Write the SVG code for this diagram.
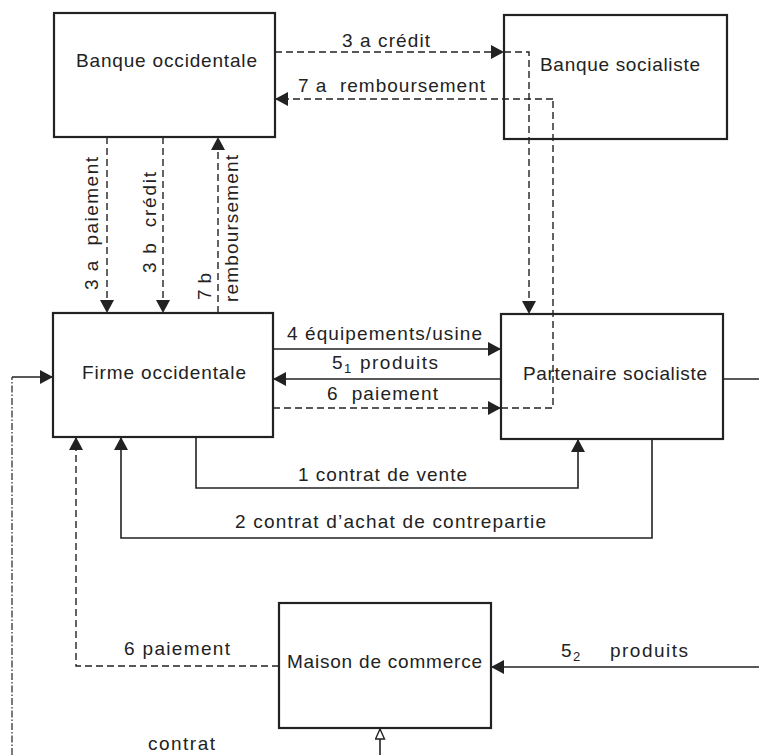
<svg xmlns="http://www.w3.org/2000/svg" width="759" height="755" viewBox="0 0 759 755">
<style>
  .box { fill: #fff; stroke: #222; stroke-width: 2.2; }
  .t { font-family: "Liberation Sans", Arial, sans-serif; font-size: 19px; fill: #222; }
  .sub { font-size: 13px; }
  .sol { fill: none; stroke: #222; stroke-width: 1.6; }
  .dsh { fill: none; stroke: #222; stroke-width: 1.4; stroke-dasharray: 7 4; }
  .dd { fill: none; stroke: #222; stroke-width: 1.2; stroke-dasharray: 7 2 1.5 2; }
</style>
<defs>
  <marker id="ah" markerUnits="userSpaceOnUse" markerWidth="14" markerHeight="14" refX="13" refY="7" orient="auto">
    <path d="M0,0 L13,7 L0,14 z" fill="#222"/>
  </marker>
  <marker id="ao" markerUnits="userSpaceOnUse" markerWidth="12" markerHeight="12" refX="11" refY="5.5" orient="auto">
    <path d="M1,1 L11,5.5 L1,10 z" fill="#fff" stroke="#222" stroke-width="1.4"/>
  </marker>
</defs>
<rect width="759" height="755" fill="#fff"/>

<g id="connectors">
  <path class="dsh" d="M275,52 H504" marker-end="url(#ah)"/>
  <path class="dsh" d="M504,52 H529 V314" marker-end="url(#ah)"/>
  <path class="dsh" d="M553,99 H275" marker-end="url(#ah)"/>
  <path class="dsh" d="M273,408 H501" marker-end="url(#ah)"/>
  <path class="dsh" d="M501,408 H553 V99"/>
  <path class="dsh" d="M107,137 V313" marker-end="url(#ah)"/>
  <path class="dsh" d="M163,137 V313" marker-end="url(#ah)"/>
  <path class="dsh" d="M218,313 V137" marker-end="url(#ah)"/>
  <path class="sol" d="M273,349 H501" marker-end="url(#ah)"/>
  <path class="sol" d="M501,379 H273" marker-end="url(#ah)"/>
  <path class="sol" d="M723,379 H759"/>
  <path class="sol" d="M759,667 H491" marker-end="url(#ah)"/>
  <path class="sol" d="M196,437 V488 H578 V439" marker-end="url(#ah)"/>
  <path class="sol" d="M652,439 V538 H121 V437" marker-end="url(#ah)"/>
  <path class="dsh" d="M279,666 H76 V437" marker-end="url(#ah)"/>
  <path class="dd" d="M12,755 V377"/>
  <path class="sol" d="M12,377 H53" marker-end="url(#ah)"/>
  <path class="sol" d="M380,755 V729" marker-end="url(#ao)"/>
</g>

<g id="labels">
  <text class="t" x="342" y="47" textLength="88" lengthAdjust="spacing">3 a crédit</text>
  <text class="t" x="298" y="92" textLength="187" lengthAdjust="spacing" xml:space="preserve">7 a  remboursement</text>
  <text class="t" transform="translate(98,290) rotate(-90)" x="0" y="0" textLength="133" lengthAdjust="spacing" xml:space="preserve">3 a  paiement</text>
  <text class="t" transform="translate(156,273) rotate(-90)" x="0" y="0" textLength="101" lengthAdjust="spacing" xml:space="preserve">3 b  crédit</text>
  <text class="t" transform="translate(211,300) rotate(-90)" x="0" y="0" textLength="27" lengthAdjust="spacing">7 b</text>
  <text class="t" transform="translate(238,302) rotate(-90)" x="0" y="0" textLength="147" lengthAdjust="spacing">remboursement</text>
  <text class="t" x="287" y="340" textLength="195" lengthAdjust="spacing">4 équipements/usine</text>
  <text class="t" y="369"><tspan x="332">5</tspan><tspan class="sub" x="344" dy="4">1</tspan><tspan x="360" dy="-4" textLength="78" lengthAdjust="spacing">produits</tspan></text>
  <text class="t" x="327" y="400" textLength="111" lengthAdjust="spacing" xml:space="preserve">6  paiement</text>
  <text class="t" x="298" y="481" textLength="169" lengthAdjust="spacing">1 contrat de vente</text>
  <text class="t" x="235" y="528" textLength="311" lengthAdjust="spacing">2 contrat d’achat de contrepartie</text>
  <text class="t" x="124" y="655" textLength="106" lengthAdjust="spacing">6 paiement</text>
  <text class="t" y="657"><tspan x="561">5</tspan><tspan class="sub" x="573" dy="4">2</tspan><tspan x="610" dy="-4" textLength="78" lengthAdjust="spacing">produits</tspan></text>
  <text class="t" x="148" y="750" textLength="67" lengthAdjust="spacing">contrat</text>
</g>

<g id="banque-occidentale">
  <rect class="box" x="54" y="13" width="221" height="124"/>
  <text class="t" x="76" y="67" textLength="181" lengthAdjust="spacing">Banque occidentale</text>
</g>
<g id="banque-socialiste">
  <rect class="box" x="504" y="15" width="223" height="124" style="fill:none"/>
  <text class="t" x="540" y="71" textLength="160" lengthAdjust="spacing">Banque socialiste</text>
</g>
<g id="firme-occidentale">
  <rect class="box" x="53" y="313" width="220" height="124"/>
  <text class="t" x="82" y="379" textLength="164" lengthAdjust="spacing">Firme occidentale</text>
</g>
<g id="partenaire-socialiste">
  <rect class="box" x="501" y="314" width="222" height="125" style="fill:none"/>
  <text class="t" x="523" y="380" textLength="184" lengthAdjust="spacing">Partenaire socialiste</text>
</g>
<g id="maison-de-commerce">
  <rect class="box" x="279" y="603" width="212" height="125"/>
  <text class="t" x="287" y="668" textLength="195" lengthAdjust="spacing">Maison de commerce</text>
</g>
</svg>
